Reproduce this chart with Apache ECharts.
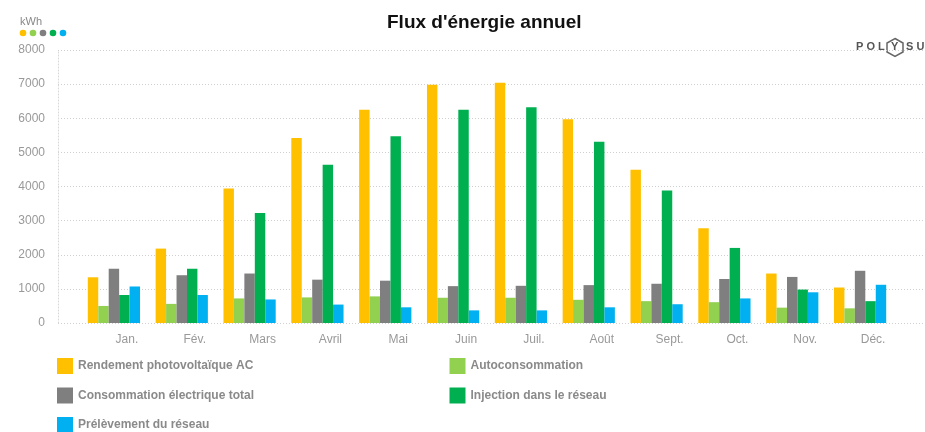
<!DOCTYPE html>
<html>
<head>
<meta charset="utf-8">
<script src="https://cdn.jsdelivr.net/npm/echarts@6/dist/echarts.min.js"></script>
<style>
  html, body { margin: 0; padding: 0; background: #fff; }
  #chart { width: 925px; height: 432px; }
</style>
</head>
<body>
<div id="chart"></div>
<script>
// mois de l'année
const months = ['Jan.', 'Fév.', 'Mars', 'Avril', 'Mai', 'Juin', 'Juil.', 'Août', 'Sept.', 'Oct.', 'Nov.', 'Déc.'];

// valeurs en kWh
const rendement   = [1340, 2180, 3940, 5420, 6250, 6980, 7040, 5970, 4490, 2780, 1450, 1040];
const autoconso   = [500, 560, 720, 750, 780, 740, 740, 680, 640, 610, 450, 430];
const consoTotal  = [1590, 1400, 1450, 1270, 1240, 1080, 1090, 1110, 1150, 1290, 1350, 1530];
const injection   = [820, 1590, 3220, 4640, 5470, 6250, 6320, 5310, 3880, 2200, 980, 640];
const prelevement = [1070, 820, 690, 540, 460, 370, 370, 460, 550, 720, 900, 1120];

const seriesNames = [
  'Rendement photovoltaïque AC',
  'Autoconsommation',
  'Consommation électrique total',
  'Injection dans le réseau',
  'Prélèvement du réseau'
];
const seriesData = [rendement, autoconso, consoTotal, injection, prelevement];
const colors = ['#FFC000', '#92D050', '#7F7F7F', '#00B050', '#00B0F0'];

const yTicks = { min: 0, max: 8000, interval: 1000 };

const chart = echarts.init(document.getElementById('chart'), null, { renderer: 'canvas' });

const FONT = '"Liberation Sans", Arial, sans-serif';

// petits points de couleur sous "kWh"
const dots = colors.map((c, i) => ({
  type: 'circle',
  shape: { cx: 23 + i * 10, cy: 33, r: 3.3 },
  style: { fill: c }
}));

chart.setOption({
  color: colors,
  animation: false,
  title: {
    text: "Flux d'énergie annuel",
    left: 382,
    top: 8,
    textStyle: { fontFamily: FONT, fontSize: 19, fontWeight: 'bold', color: '#111' }
  },
  legend: {
    data: seriesNames,
    left: 52,
    top: 353,
    width: 800,
    itemWidth: 16,
    itemHeight: 16,
    itemGap: 13.5,
    icon: 'rect',
    textStyle: {
      fontFamily: FONT, fontSize: 12, fontWeight: 'bold', color: '#8a8a8a',
      width: 358, lineHeight: 16
    }
  },
  grid: [
    // grille de fond (lignes pointillées)
    { left: 58, right: 0, top: 50, bottom: 109 },
    // grille des barres
    { left: 80, right: 31, top: 50, bottom: 109 }
  ],
  xAxis: [
    { type: 'category', gridIndex: 0, data: [''], show: false },
    {
      type: 'category', gridIndex: 1, data: months,
      axisLine: { show: false }, axisTick: { show: false },
      axisLabel: { color: '#999', fontFamily: FONT, fontSize: 12, margin: 11, padding: [0, 0, 0, 26] }
    }
  ],
  yAxis: [
    {
      type: 'value', gridIndex: 0, ...yTicks,
      axisLine: { show: true, lineStyle: { color: '#d8d8d8', type: [1, 2] } },
      axisTick: { show: false },
      axisLabel: { color: '#999', fontFamily: FONT, fontSize: 12, margin: 13, formatter: v => String(v) },
      splitLine: { lineStyle: { color: '#cfcfcf', type: [1, 2] } }
    },
    { type: 'value', gridIndex: 1, ...yTicks, show: false, splitLine: { show: false } }
  ],
  series: seriesNames.map((name, i) => ({
    name,
    type: 'bar',
    xAxisIndex: 1,
    yAxisIndex: 1,
    data: seriesData[i],
    barGap: '0%',
    barCategoryGap: '23%'
  })),
  graphic: [
    {
      type: 'text', left: 20, top: 16,
      style: { text: 'kWh', fill: '#888', font: '11px ' + FONT }
    },
    ...dots,
    // logo Polysun
    {
      type: 'group', left: 852, top: 36,
      children: [
        { type: 'rect', shape: { x: 0, y: 0, width: 80, height: 20 }, style: { fill: '#fff' } },
        { type: 'text', x: 4, y: 4, style: { text: 'P O L', fill: '#555', font: 'bold 11px ' + FONT } },
        {
          type: 'polygon',
          shape: { points: [[43, 1], [51, 5.5], [51, 14.5], [43, 19], [35, 14.5], [35, 5.5]] },
          style: { fill: 'none', stroke: '#666', lineWidth: 1.5 }
        },
        { type: 'text', x: 39, y: 4, style: { text: 'Y', fill: '#555', font: 'bold 11px ' + FONT } },
        { type: 'text', x: 54, y: 4, style: { text: 'S U N', fill: '#555', font: 'bold 11px ' + FONT } }
      ]
    }
  ]
});
</script>
</body>
</html>
